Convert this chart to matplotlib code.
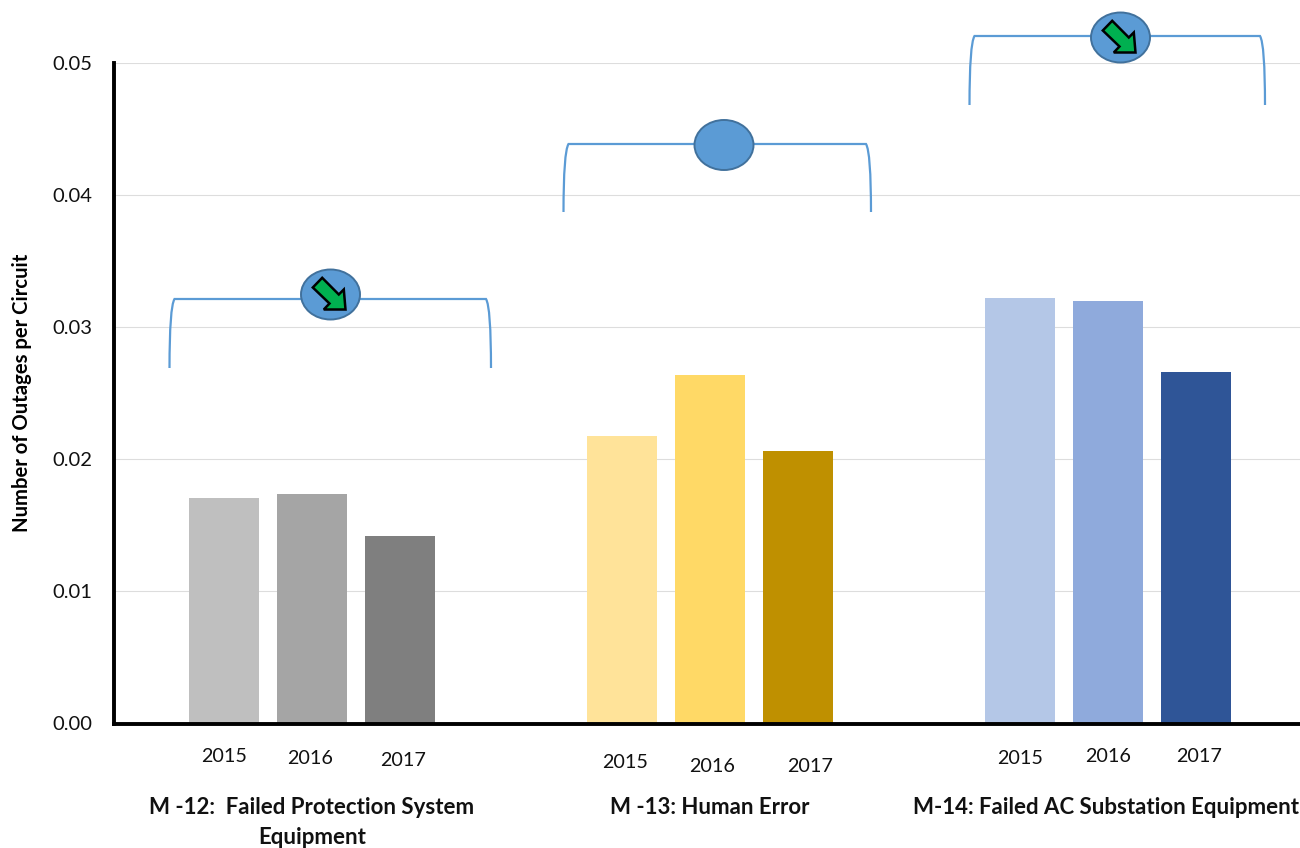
import numpy as np
import matplotlib.pyplot as plt
from matplotlib.patches import Ellipse, PathPatch, Polygon
from matplotlib.path import Path

plt.rcParams['font.family'] = ['Lato', 'DejaVu Sans']

years = ['2015', '2016', '2017']
m12_outages = [0.0171, 0.0174, 0.0142]
m13_outages = [0.0218, 0.0264, 0.0206]
m14_outages = [0.0322, 0.0320, 0.0266]
m12_colors = ['#BFBFBF', '#A5A5A5', '#7F7F7F']
m13_colors = ['#FFE399', '#FFD966', '#BF9000']
m14_colors = ['#B4C7E7', '#8FAADC', '#2F5597']
yticks = [0.00, 0.01, 0.02, 0.03, 0.04, 0.05]

W, H = 1300, 848
fig = plt.figure(figsize=(W / 100, H / 100), dpi=100)
ax = fig.add_axes([113.5 / W, (H - 723.5) / H, (W - 113.5) / W, 660.5 / H])

# one slot = 88 px, groups sit 398 px apart
slot = 88
group_x = np.array([312, 710, 1108]) - 113.5
for center, vals, cols in zip(group_x, [m12_outages, m13_outages, m14_outages],
                              [m12_colors, m13_colors, m14_colors]):
    ax.bar(center + np.arange(-1, 2) * slot, vals, width=70, color=cols, zorder=2)

ax.set_xlim(0, W - 113.5)
ax.set_ylim(0, 0.05)
ax.set_xticks([])
ax.set_yticks(yticks)
ax.set_yticklabels([f'{t:.2f}' for t in yticks], fontsize=14.5, color='#111111')
ax.tick_params(axis='y', length=0, pad=15)
ax.grid(axis='y', color='#DDDDDD', linewidth=0.8, zorder=0)
ax.set_axisbelow(True)
for side in ['top', 'right']:
    ax.spines[side].set_visible(False)
for side in ['left', 'bottom']:
    ax.spines[side].set_linewidth(2.8)
    ax.spines[side].set_color('black')
ax.set_ylabel('Number of Outages per Circuit', fontsize=14.6, fontweight='bold', va='center')
ax.yaxis.set_label_coords((22 - 113.5) / (W - 113.5), (723.5 - 392.5) / 660.5)

# overlay in pixel coordinates for the brackets and free-standing labels
over = fig.add_axes([0, 0, 1, 1], zorder=5)
over.set_xlim(0, W)
over.set_ylim(H, 0)
over.axis('off')
over.patch.set_alpha(0)


def bracket(x0, x1, top, bottom):
    verts = [(x0, bottom), (x0, top + 8), (x0 + 5, top), (x1 - 5, top), (x1, top + 8), (x1, bottom)]
    codes = [Path.MOVETO, Path.CURVE3, Path.CURVE3, Path.LINETO, Path.CURVE3, Path.CURVE3]
    over.add_patch(PathPatch(Path(verts, codes), fill=False, edgecolor='#5B9BD5', linewidth=1.6))


def badge(cx, cy, arrow=True):
    over.add_patch(Ellipse((cx, cy), 59, 50, facecolor='#5B9BD5', edgecolor='#41719C', linewidth=1.4, zorder=3))
    if arrow:
        shape = np.array([(-17.7, -7), (-8.3, -16.7), (8.3, 0), (13.3, -5), (15, 15), (-6.7, 15), (-1, 9)])
        over.add_patch(Polygon(shape + [cx, cy], closed=True, facecolor='#00B050', edgecolor='black',
                               linewidth=1.8, zorder=4))


bracket(169.5, 491, 299, 368)
badge(330.5, 294.5)
bracket(563.5, 871, 144, 212)
badge(724, 145, arrow=False)
bracket(969.5, 1265, 36, 105)
badge(1120.5, 37.5)

year_pos = [(224, 757), (310, 759), (403, 761),
            (625, 763), (712, 767), (810, 767),
            (1020, 759), (1108, 757), (1199, 757)]
for label, (x, y) in zip(years * 3, year_pos):
    over.text(x, y, label, ha='center', va='center', fontsize=14.2, color='#111111')

bold = dict(ha='center', va='center', fontsize=16, fontweight='bold', color='#111111')
over.text(312, 807, 'M -12:  Failed Protection System', **bold)
over.text(312, 838, 'Equipment', **bold)
over.text(710, 807, 'M -13: Human Error', **bold)
over.text(1106, 807, 'M-14: Failed AC Substation Equipment', **bold)

fig.savefig('out.png', dpi=100)
